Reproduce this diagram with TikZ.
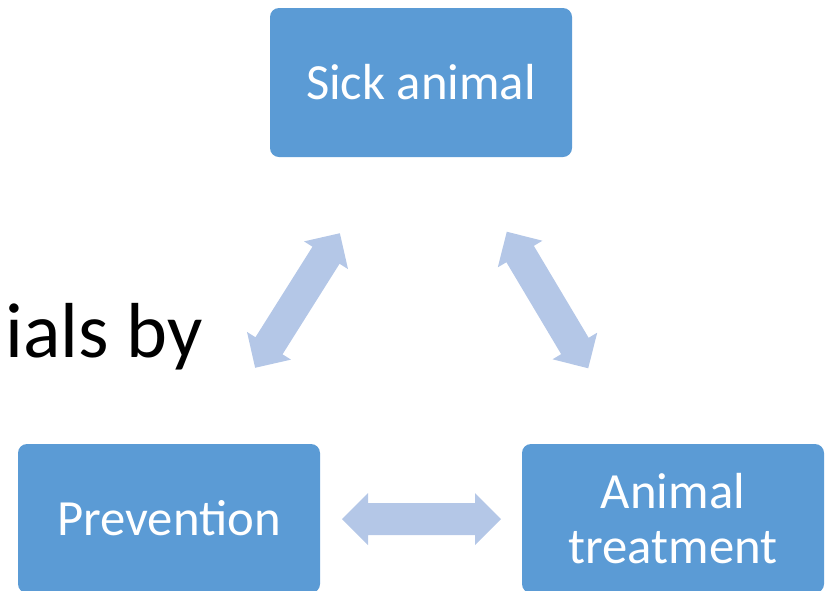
\documentclass[tikz,border=0pt]{standalone}
\usepackage{fontspec}
\setmainfont{Carlito}
\definecolor{boxblue}{HTML}{5B9BD5}
\definecolor{arrowblue}{HTML}{B4C7E7}
\tikzset{
	stagebox/.style={fill=boxblue,rounded corners=9pt,minimum width=302pt,minimum height=149pt,inner sep=0pt,text=white,align=center,font=\fontsize{50.7}{55}\selectfont},
	dblarrow/.pic={\fill[arrowblue] (-79.5,0) -- (-53.5,26) -- (-53.5,16) -- (53.5,16) -- (53.5,26) -- (79.5,0) -- (53.5,-26) -- (53.5,-16) -- (-53.5,-16) -- (-53.5,-26) -- cycle;}
}
\begin{document}
\begin{tikzpicture}[x=1pt,y=-1pt]
	\useasboundingbox (0,0) rectangle (827,590);
	\clip (0,0) rectangle (827,590);
	% boxes
	\node[stagebox] (sick) at (421,82.5) {Sick animal};
	\node[stagebox] (prev) at (169,518.5) {Prevention};
	\node[stagebox] (treat) at (673,518.5) {Animal\\treatment};
	% arrows between the boxes
	\pic[rotate=57.8] at (297.5,300.5) {dblarrow};
	\pic[rotate=-59.2] at (547.5,300) {dblarrow};
	\pic at (421.5,519) {dblarrow};
	\node[anchor=base east,inner sep=0pt,font=\fontsize{78}{80}\selectfont] (cut) at (203,357) {ials by};
\end{tikzpicture}
\end{document}
